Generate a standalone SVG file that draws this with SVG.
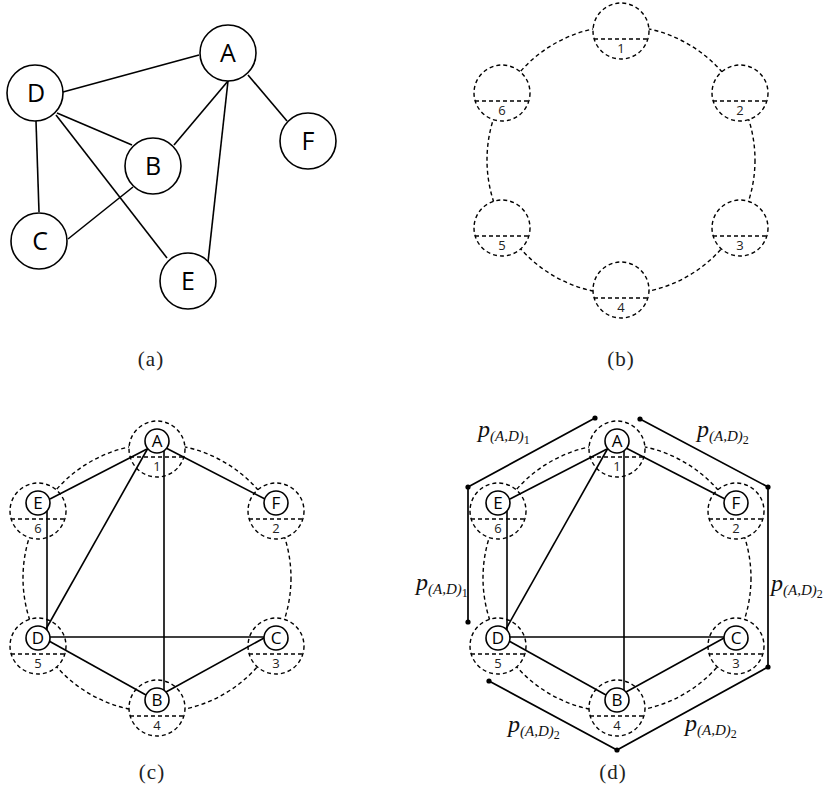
<svg xmlns="http://www.w3.org/2000/svg" width="824" height="796" viewBox="0 0 824 796">
  <style>
    .node { fill: #fff; stroke: #000; stroke-width: 1.6; }
    .lbl { font-family: "Open Sans", "Noto Sans", sans-serif; text-anchor: middle; fill: #000; }
    .big { font-size: 25px; }
    .small { font-size: 17px; }
    .edge { stroke: #000; stroke-width: 1.6; fill: none; }
    .ring { fill: none; stroke: #000; stroke-width: 1.4; stroke-dasharray: 4 3; }
    .slot { fill: #fff; stroke: #000; stroke-width: 1.4; stroke-dasharray: 4 3; }
    .chord { stroke: #000; stroke-width: 1.4; stroke-dasharray: 4 3; }
    .num { font-family: "Open Sans", "Noto Sans", sans-serif; font-size: 13px; text-anchor: middle; fill: #222; }
    .cap { font-family: "Liberation Serif", serif; font-size: 21px; letter-spacing: 1px; text-anchor: middle; fill: #222; }
    .path { stroke: #000; stroke-width: 1.7; fill: none; }
    .dot { fill: #000; }
    .math { font-family: "Liberation Serif", serif; font-style: italic; fill: #111; }
  </style>
  <defs>
    <!-- one dashed slot: circle with a chord under the centre -->
    <g id="slotShape">
      <circle class="slot" cx="0" cy="0" r="28"/>
      <line class="chord" x1="-27" y1="8" x2="27" y2="8"/>
    </g>
  </defs>
  <rect width="824" height="796" fill="#fff"/>

  <!-- (a) the graph -->
  <g id="graph-a">
    <g id="a-edges">
      <line class="edge" x1="63" y1="92" x2="199" y2="55"/>
      <line class="edge" x1="57" y1="113" x2="132" y2="145"/>
      <line class="edge" x1="56" y1="115" x2="167" y2="258"/>
      <line class="edge" x1="36" y1="121" x2="39" y2="212"/>
      <line class="edge" x1="228" y1="81" x2="174" y2="145"/>
      <line class="edge" x1="228" y1="81" x2="208" y2="262"/>
      <line class="edge" x1="248" y1="75" x2="287" y2="121"/>
      <line class="edge" x1="133" y1="187" x2="68" y2="239"/>
    </g>
    <g id="a-A"><circle class="node" cx="228" cy="53" r="28"/><text class="lbl big" x="228" y="62">A</text></g>
    <g id="a-D"><circle class="node" cx="35" cy="93" r="28"/><text class="lbl big" x="36" y="102">D</text></g>
    <g id="a-B"><circle class="node" cx="153" cy="166" r="28"/><text class="lbl big" x="153" y="175">B</text></g>
    <g id="a-F"><circle class="node" cx="308" cy="141" r="28"/><text class="lbl big" x="308" y="150">F</text></g>
    <g id="a-C"><circle class="node" cx="39" cy="241" r="28"/><text class="lbl big" x="40" y="250">C</text></g>
    <g id="a-E"><circle class="node" cx="188" cy="281" r="28"/><text class="lbl big" x="188" y="290">E</text></g>
  </g>
  <text class="cap" x="151" y="366">(a)</text>

  <!-- (b) the ring of six slots -->
  <g id="ring-b" transform="translate(621,160)">
    <circle class="ring" cx="0" cy="0" r="134"/>
    <g id="b-s1"><use href="#slotShape" x="0" y="-129"/><text class="num" x="0" y="-107">1</text></g>
    <g id="b-s2"><use href="#slotShape" x="119" y="-67"/><text class="num" x="119" y="-45">2</text></g>
    <g id="b-s3"><use href="#slotShape" x="119" y="68"/><text class="num" x="119" y="90">3</text></g>
    <g id="b-s4"><use href="#slotShape" x="0" y="130"/><text class="num" x="0" y="152">4</text></g>
    <g id="b-s5"><use href="#slotShape" x="-119" y="68"/><text class="num" x="-119" y="90">5</text></g>
    <g id="b-s6"><use href="#slotShape" x="-119" y="-67"/><text class="num" x="-119" y="-45">6</text></g>
  </g>
  <text class="cap" x="621" y="366">(b)</text>

  <!-- (c) graph placed on the ring -->
  <g id="ring-c" transform="translate(157,578)">
    <circle class="ring" cx="0" cy="0" r="134"/>
    <g id="c-s1"><use href="#slotShape" x="0" y="-129"/><text class="num" x="0" y="-107">1</text></g>
    <g id="c-s2"><use href="#slotShape" x="119" y="-67"/><text class="num" x="119" y="-45">2</text></g>
    <g id="c-s3"><use href="#slotShape" x="119" y="68"/><text class="num" x="119" y="90">3</text></g>
    <g id="c-s4"><use href="#slotShape" x="0" y="130"/><text class="num" x="0" y="152">4</text></g>
    <g id="c-s5"><use href="#slotShape" x="-119" y="68"/><text class="num" x="-119" y="90">5</text></g>
    <g id="c-s6"><use href="#slotShape" x="-119" y="-67"/><text class="num" x="-119" y="-45">6</text></g>
    <g id="c-edges">
      <line class="edge" x1="-10" y1="-129" x2="-107" y2="-79"/>
      <line class="edge" x1="-9" y1="-130" x2="-111" y2="51"/>
      <line class="edge" x1="7" y1="-128" x2="7" y2="113"/>
      <line class="edge" x1="9" y1="-130" x2="108" y2="-79"/>
      <line class="edge" x1="-110" y1="-67" x2="-110" y2="52"/>
      <line class="edge" x1="-107" y1="59" x2="107" y2="59"/>
      <line class="edge" x1="-108" y1="63" x2="-11" y2="117"/>
      <line class="edge" x1="9" y1="114" x2="107" y2="60"/>
    </g>
    <g id="c-A"><circle class="node" cx="0" cy="-137" r="12"/><text class="lbl small" x="0" y="-131">A</text></g>
    <g id="c-F"><circle class="node" cx="119" cy="-75" r="12"/><text class="lbl small" x="119" y="-69">F</text></g>
    <g id="c-C"><circle class="node" cx="119" cy="60" r="12"/><text class="lbl small" x="119" y="66">C</text></g>
    <g id="c-B"><circle class="node" cx="0" cy="122" r="12"/><text class="lbl small" x="0" y="128">B</text></g>
    <g id="c-D"><circle class="node" cx="-119" cy="60" r="12"/><text class="lbl small" x="-119" y="66">D</text></g>
    <g id="c-E"><circle class="node" cx="-119" cy="-75" r="12"/><text class="lbl small" x="-119" y="-69">E</text></g>
  </g>
  <text class="cap" x="152" y="779">(c)</text>

  <!-- (d) same placement with the two paths for edge (A,D) -->
  <g id="ring-d" transform="translate(617,578)">
    <circle class="ring" cx="0" cy="0" r="134"/>
    <g id="d-s1"><use href="#slotShape" x="0" y="-129"/><text class="num" x="0" y="-107">1</text></g>
    <g id="d-s2"><use href="#slotShape" x="119" y="-67"/><text class="num" x="119" y="-45">2</text></g>
    <g id="d-s3"><use href="#slotShape" x="119" y="68"/><text class="num" x="119" y="90">3</text></g>
    <g id="d-s4"><use href="#slotShape" x="0" y="130"/><text class="num" x="0" y="152">4</text></g>
    <g id="d-s5"><use href="#slotShape" x="-119" y="68"/><text class="num" x="-119" y="90">5</text></g>
    <g id="d-s6"><use href="#slotShape" x="-119" y="-67"/><text class="num" x="-119" y="-45">6</text></g>
    <g id="d-edges">
      <line class="edge" x1="-10" y1="-129" x2="-107" y2="-79"/>
      <line class="edge" x1="-9" y1="-130" x2="-111" y2="51"/>
      <line class="edge" x1="7" y1="-128" x2="7" y2="113"/>
      <line class="edge" x1="9" y1="-130" x2="108" y2="-79"/>
      <line class="edge" x1="-110" y1="-67" x2="-110" y2="52"/>
      <line class="edge" x1="-107" y1="59" x2="107" y2="59"/>
      <line class="edge" x1="-108" y1="63" x2="-11" y2="117"/>
      <line class="edge" x1="9" y1="114" x2="107" y2="60"/>
    </g>
    <g id="d-paths">
      <polyline class="path" points="-22,-160 -149,-91 -149,44"/>
      <polyline class="path" points="23,-159 151,-91 151,89 0,172 -128,103"/>
      <circle class="dot" cx="-22" cy="-160" r="2.6"/>
      <circle class="dot" cx="-149" cy="-91" r="2.6"/>
      <circle class="dot" cx="-149" cy="44" r="2.6"/>
      <circle class="dot" cx="23" cy="-159" r="2.6"/>
      <circle class="dot" cx="151" cy="-91" r="2.6"/>
      <circle class="dot" cx="151" cy="89" r="2.6"/>
      <circle class="dot" cx="0" cy="172" r="2.6"/>
      <circle class="dot" cx="-128" cy="103" r="2.6"/>
    </g>
    <g id="d-A"><circle class="node" cx="0" cy="-137" r="12"/><text class="lbl small" x="0" y="-131">A</text></g>
    <g id="d-F"><circle class="node" cx="119" cy="-75" r="12"/><text class="lbl small" x="119" y="-69">F</text></g>
    <g id="d-C"><circle class="node" cx="119" cy="60" r="12"/><text class="lbl small" x="119" y="66">C</text></g>
    <g id="d-B"><circle class="node" cx="0" cy="122" r="12"/><text class="lbl small" x="0" y="128">B</text></g>
    <g id="d-D"><circle class="node" cx="-119" cy="60" r="12"/><text class="lbl small" x="-119" y="66">D</text></g>
    <g id="d-E"><circle class="node" cx="-119" cy="-75" r="12"/><text class="lbl small" x="-119" y="-69">E</text></g>
  </g>

  <!-- path labels -->
  <g id="path-labels" class="math">
    <text x="478" y="437" font-size="24">p<tspan font-size="15" dy="4">(A,D)</tspan><tspan font-size="12" font-style="normal" dy="3">1</tspan></text>
    <text x="697" y="437" font-size="24">p<tspan font-size="15" dy="4">(A,D)</tspan><tspan font-size="12" font-style="normal" dy="3">2</tspan></text>
    <text x="416" y="590" font-size="24">p<tspan font-size="15" dy="4">(A,D)</tspan><tspan font-size="12" font-style="normal" dy="3">1</tspan></text>
    <text x="771" y="591" font-size="24">p<tspan font-size="15" dy="4">(A,D)</tspan><tspan font-size="12" font-style="normal" dy="3">2</tspan></text>
    <text x="508" y="732" font-size="24">p<tspan font-size="15" dy="4">(A,D)</tspan><tspan font-size="12" font-style="normal" dy="3">2</tspan></text>
    <text x="685" y="731" font-size="24">p<tspan font-size="15" dy="4">(A,D)</tspan><tspan font-size="12" font-style="normal" dy="3">2</tspan></text>
  </g>
  <text class="cap" x="613" y="779">(d)</text>
</svg>
